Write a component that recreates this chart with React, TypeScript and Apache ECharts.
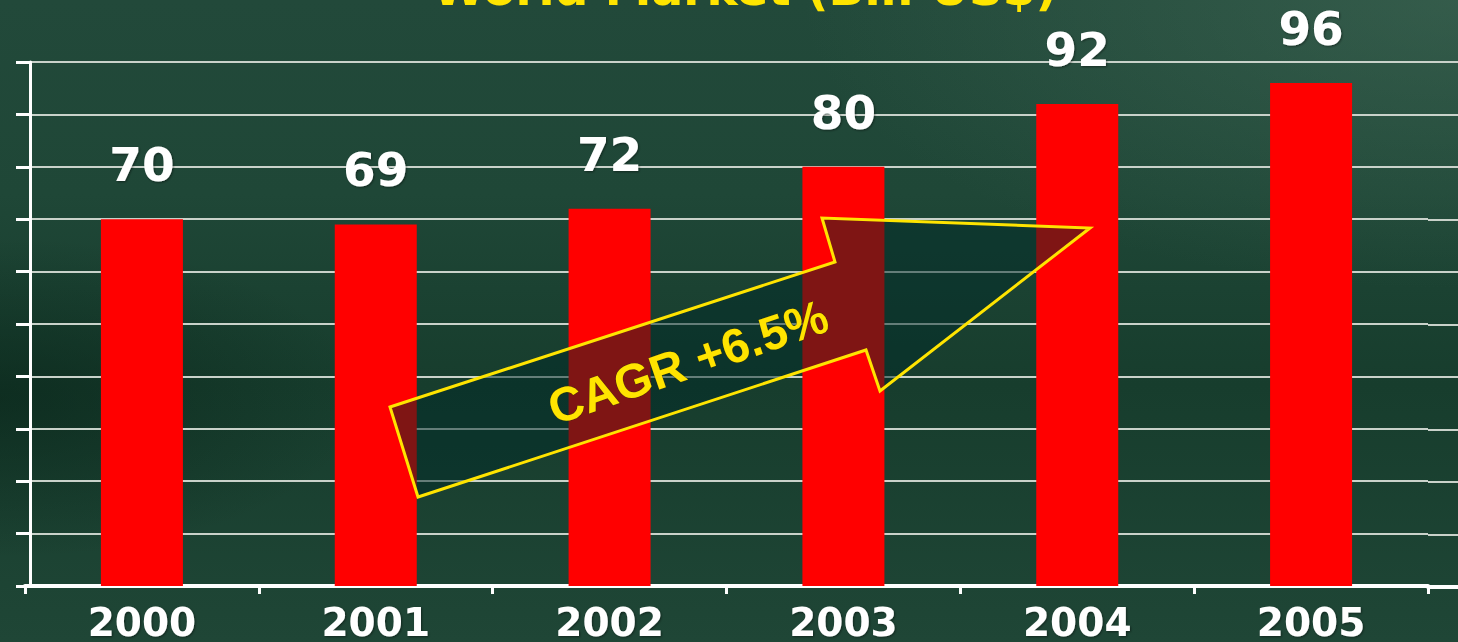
import React, { useEffect, useRef } from "react";
import * as echarts from "echarts";

const categories = ["2000", "2001", "2002", "2003", "2004", "2005"];
const values = [70, 69, 72, 80, 92, 96];
const titleText = "World Market (Bil. US$)";
const arrowText = "CAGR +6.5%";

export default function App() {
  const ref = useRef<HTMLDivElement>(null);
  useEffect(() => {
    if (!ref.current) return;
    const chart = echarts.init(ref.current, undefined, { renderer: "svg" });
    const gridLine = { color: "#c9d2ca", width: 2 };
    chart.setOption({
      animation: false,
      grid: [
        { left: 25, right: 30, top: 62, bottom: 55 },
        { left: 1428, right: 0, top: 62, bottom: 55 },
      ],
      xAxis: [
        {
          type: "category",
          gridIndex: 0,
          data: categories,
          axisLine: { show: true, lineStyle: { color: "#ffffff", width: 4 } },
          axisTick: { show: true, length: 8, lineStyle: { color: "#ffffff", width: 3 } },
          axisLabel: {
            color: "#ffffff",
            fontSize: 39,
            fontWeight: "bold",
            fontFamily: "DejaVu Sans",
            margin: 17,
            lineHeight: 39,
            textShadowColor: "rgba(0,0,0,0.45)",
            textShadowBlur: 2,
            textShadowOffsetX: 1,
            textShadowOffsetY: 1,
          },
        },
        {
          type: "category",
          gridIndex: 1,
          data: [""],
          axisLine: { show: true, lineStyle: { color: "#ffffff", width: 4 } },
          axisTick: { show: false },
          axisLabel: { show: false },
        },
      ],
      yAxis: [
        {
          type: "value",
          gridIndex: 0,
          min: 0,
          max: 100,
          interval: 10,
          offset: -5,
          axisLine: { show: true, lineStyle: { color: "#ffffff", width: 3 } },
          axisTick: { show: true, length: 14, lineStyle: { color: "#ffffff", width: 3 } },
          axisLabel: { show: false },
          splitLine: { show: true, lineStyle: gridLine },
        },
        {
          type: "value",
          gridIndex: 1,
          min: 0,
          max: 100,
          interval: 10,
          axisLine: { show: false },
          axisTick: { show: false },
          axisLabel: { show: false },
          splitLine: { show: true, lineStyle: gridLine },
        },
      ],
      series: [
        {
          type: "bar",
          xAxisIndex: 0,
          yAxisIndex: 0,
          data: values,
          barWidth: 82,
          itemStyle: { color: "#ff0000" },
          label: {
            show: true,
            position: "top",
            distance: 31,
            color: "#ffffff",
            fontSize: 47,
            fontWeight: "bold",
            fontFamily: "DejaVu Sans",
            lineHeight: 47,
            textShadowColor: "rgba(0,0,0,0.45)",
            textShadowBlur: 2,
            textShadowOffsetX: 1,
            textShadowOffsetY: 1,
          },
        },
      ],
      graphic: [
        {
          type: "rect",
          z: -100,
          silent: true,
          shape: { x: 0, y: 0, width: 1458, height: 642 },
          style: {
            fill: new echarts.graphic.LinearGradient(0, 0, 0, 1, [
              { offset: 0, color: "#22493a" },
              { offset: 0.3, color: "#1f4737" },
              { offset: 0.6, color: "#173d2d" },
              { offset: 1, color: "#1f4636" },
            ]),
          },
        },
        {
          type: "rect",
          z: -99,
          silent: true,
          shape: { x: 0, y: 0, width: 1458, height: 642 },
          style: {
            fill: new echarts.graphic.RadialGradient(1, 0, 0.45, [
              { offset: 0, color: "rgba(80,120,100,0.4)" },
              { offset: 1, color: "rgba(80,120,100,0)" },
            ]),
          },
        },
        {
          type: "rect",
          z: -98,
          silent: true,
          shape: { x: 0, y: 0, width: 1458, height: 642 },
          style: {
            fill: new echarts.graphic.RadialGradient(0, 0.62, 0.25, [
              { offset: 0, color: "rgba(5,30,20,0.5)" },
              { offset: 1, color: "rgba(5,30,20,0)" },
            ]),
          },
        },
        {
          type: "text",
          z: 100,
          style: {
            text: titleText,
            x: 745,
            y: -12,
            align: "center",
            verticalAlign: "middle",
            fill: "#ffe500",
            font: 'bold 47px "DejaVu Sans"',
          },
        },
        {
          type: "polygon",
          z: 100,
          shape: {
            points: [
              [390, 407],
              [835, 262],
              [822, 218],
              [1090, 228],
              [880, 391],
              [866, 350],
              [418, 497],
            ],
          },
          style: {
            fill: "rgba(0,42,40,0.5)",
            stroke: "#ffe400",
            lineWidth: 3,
          },
        },
        {
          type: "text",
          z: 101,
          x: 688,
          y: 362,
          rotation: (19 * Math.PI) / 180,
          style: {
            text: arrowText,
            x: 0,
            y: 0,
            align: "center",
            verticalAlign: "middle",
            fill: "#ffe400",
            stroke: "rgba(60,50,0,0.6)",
            lineWidth: 1,
            font: 'bold 48px "Liberation Sans"',
          },
        },
      ],
    });
    return () => chart.dispose();
  }, []);
  return (
    <div
      ref={ref}
      style={{ position: "fixed", left: 0, top: 0, width: 1458, height: 642 }}
    />
  );
}
